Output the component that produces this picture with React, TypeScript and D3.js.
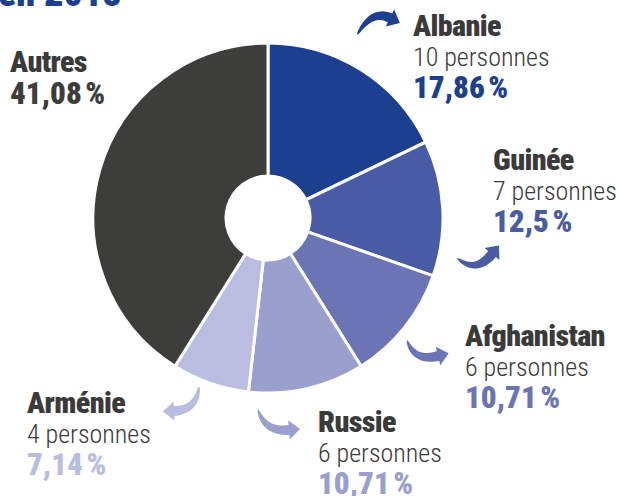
import React from "react";
import * as d3 from "d3";

const countries = ["Albanie", "Guinée", "Afghanistan", "Russie", "Arménie", "Autres"];
const persons = ["10 personnes", "7 personnes", "6 personnes", "6 personnes", "4 personnes", ""];
const shares = [17.86, 12.5, 10.71, 10.71, 7.14, 41.08];
const shareLabels = ["17,86\u202F%", "12,5\u202F%", "10,71\u202F%", "10,71\u202F%", "7,14\u202F%", "41,08\u202F%"];
const colors = ["#1c3f8f", "#4a5ba6", "#6b75b5", "#9a9fcd", "#bbbde0", "#3d3d3c"];

// label anchor (x, first baseline)
const labelPos: [number, number][] = [
  [413, 36],
  [493, 170],
  [465, 346],
  [318, 432],
  [27, 413],
  [10, 72],
];

// arrows: start, control, head base (null for none)
const arrows: ([number, number][] | null)[] = [
  [[357, 35], [372, 9], [390, 18]],
  [[457, 258], [476, 274], [492, 254]],
  [[407, 340], [414, 362], [438, 356]],
  [[258, 409], [264, 432], [289, 430]],
  [[199, 386], [197, 410], [174, 411]],
  null,
];

const W = 620, H = 496;
const cx = 268, cy = 218, R = 175, r0 = 42;
const FONT = "'Roboto Condensed', 'Liberation Sans Narrow', Roboto, sans-serif";

function arrowShape(pts: [number, number][], w: number, headLen: number, headW: number): string {
  const [p0, p1, p2] = pts;
  const q = (t: number) => [
    (1 - t) * (1 - t) * p0[0] + 2 * (1 - t) * t * p1[0] + t * t * p2[0],
    (1 - t) * (1 - t) * p0[1] + 2 * (1 - t) * t * p1[1] + t * t * p2[1],
  ];
  const d = (t: number) => {
    const dx = 2 * (1 - t) * (p1[0] - p0[0]) + 2 * t * (p2[0] - p1[0]);
    const dy = 2 * (1 - t) * (p1[1] - p0[1]) + 2 * t * (p2[1] - p1[1]);
    const l = Math.hypot(dx, dy) || 1;
    return [dx / l, dy / l];
  };
  const left: number[][] = [];
  const right: number[][] = [];
  const n = 24;
  for (let i = 0; i <= n; i++) {
    const t = i / n;
    const [x, y] = q(t);
    const [dx, dy] = d(t);
    const hw = (w / 2) * Math.pow(t, 0.5);
    left.push([x - dy * hw, y + dx * hw]);
    right.push([x + dy * hw, y - dx * hw]);
  }
  const [ex, ey] = d(1);
  const tip = [p2[0] + ex * headLen, p2[1] + ey * headLen];
  const h1 = [p2[0] - ey * headW / 2, p2[1] + ex * headW / 2];
  const h2 = [p2[0] + ey * headW / 2, p2[1] - ex * headW / 2];
  const pts2 = [...left, h1, tip, h2, ...right.reverse()];
  return "M" + pts2.map((p) => p[0].toFixed(1) + "," + p[1].toFixed(1)).join("L") + "Z";
}

export default function App() {
  const pie = d3.pie<number>().sort(null).value((v) => v).startAngle(0).endAngle(2 * Math.PI);
  const arcs = pie(shares);
  const arc = d3.arc<d3.PieArcDatum<number>>().innerRadius(r0).outerRadius(R);

  return (
    <svg
      width={W}
      height={H}
      style={{ position: "fixed", left: 0, top: 0, background: "#fff" }}
      xmlns="http://www.w3.org/2000/svg"
    >
      <text x={-2} y={6} fontFamily={FONT} fontWeight={900} fontSize={38} fill="#1c3f8f">
        en 2018
      </text>
      <g transform={`translate(${cx},${cy})`}>
        {arcs.map((a, i) => (
          <path key={i} d={arc(a) || ""} fill={colors[i]} stroke="#fff" strokeWidth={3} />
        ))}
      </g>
      {arrows.map((a, i) =>
        a ? <path key={"a" + i} d={arrowShape(a, 10, 11, 19)} fill={colors[i]} /> : null
      )}
      {countries.map((c, i) => {
        const [x, y] = labelPos[i];
        const hasP = persons[i] !== "";
        return (
          <g key={"l" + i} fontFamily={FONT}>
            <text x={x} y={y} fontWeight={900} fontSize={30} letterSpacing={-0.6} fill="#3a3a3a">
              {c}
            </text>
            {hasP && (
              <text x={x} y={y + 30} fontWeight={300} fontSize={26} fill="#3a3a3a">
                {persons[i]}
              </text>
            )}
            <text x={x} y={hasP ? y + 62 : y + 32} fontWeight={900} fontSize={31} letterSpacing={-0.6} fill={colors[i]}>
              {shareLabels[i]}
            </text>
          </g>
        );
      })}
    </svg>
  );
}
